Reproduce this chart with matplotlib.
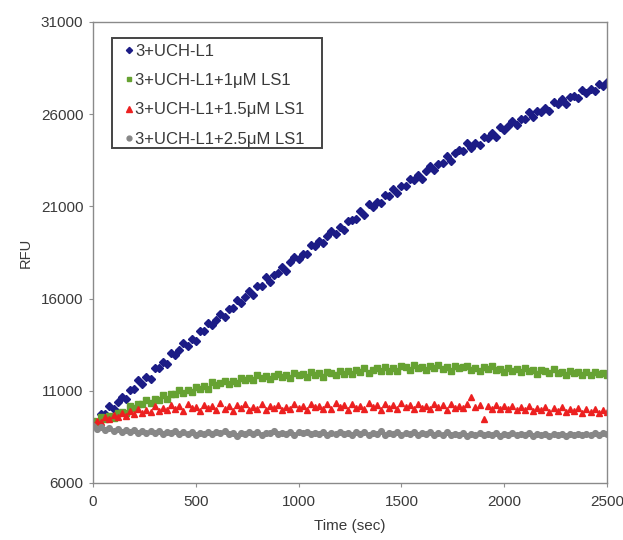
import matplotlib
matplotlib.use("Agg")
import matplotlib.pyplot as plt
from matplotlib.patches import Rectangle

plt.rcParams['font.family'] = ['Liberation Sans', 'DejaVu Sans']

time_sec = list(range(0, 2501, 20))

rfu_ctrl = [9250, 9270, 9760, 9720, 10190, 10010, 10380, 10680, 10540, 11020,
            11080, 11570, 11390, 11760, 11650, 12230, 12240, 12560, 12460, 13060,
            12930, 13220, 13580, 13430, 13820, 13690, 14260, 14270, 14680, 14550,
            14840, 15160, 14990, 15440, 15480, 15940, 15770, 16100, 16400, 16190,
            16670, 16670, 17160, 16910, 17270, 17400, 17720, 17510, 17970, 18260,
            18160, 18430, 18410, 18930, 18830, 19150, 18990, 19410, 19660, 19520,
            19860, 19720, 20220, 20280, 20340, 20760, 20550, 21110, 20980, 21240,
            21190, 21610, 21550, 21970, 21710, 22090, 22090, 22490, 22440, 22700,
            22500, 22930, 23200, 23000, 23300, 23340, 23730, 23470, 23900, 24060,
            24000, 24420, 24180, 24430, 24350, 24790, 24730, 24960, 24790, 25320,
            25160, 25360, 25620, 25410, 25730, 25740, 26100, 25850, 26180, 26130,
            26330, 26190, 26650, 26580, 26800, 26530, 26940, 26970, 26870, 27330,
            27140, 27350, 27270, 27650, 27530, 27740]

rfu_1um = [9340, 9280, 9560, 9480, 9660, 9510, 9800, 9840, 9810, 10160,
           10050, 10290, 10280, 10520, 10360, 10530, 10500, 10750, 10560, 10830,
           10850, 11040, 10870, 11020, 10930, 11200, 11110, 11270, 11120, 11460,
           11290, 11420, 11520, 11360, 11520, 11400, 11700, 11590, 11700, 11580,
           11840, 11680, 11820, 11640, 11800, 11900, 11740, 11870, 11690, 11950,
           11840, 11930, 11770, 12030, 11860, 11940, 11750, 12010, 11950, 11860,
           12080, 11920, 12050, 11900, 12130, 12030, 12220, 11960, 12140, 12210,
           12090, 12290, 12100, 12220, 12090, 12320, 12290, 12150, 12410, 12220,
           12300, 12130, 12340, 12240, 12380, 12180, 12270, 12100, 12360, 12210,
           12310, 12340, 12140, 12250, 12080, 12280, 12170, 12320, 12110, 12160,
           12040, 12260, 12080, 12190, 12010, 12250, 12060, 12120, 11930, 12150,
           12060, 11960, 12160, 11960, 12030, 11880, 12090, 11940, 12040, 11870,
           12000, 11830, 12010, 11890, 11970, 11880]

rfu_15um = [9150, 9380, 9290, 9560, 9450, 9700, 9580, 9820, 9650, 9900,
            9760, 10010, 9820, 9980, 9870, 10150, 9900, 10060, 9950, 10230,
            10020, 10170, 9930, 10280, 10050, 10130, 9900, 10250, 10080, 10190,
            9960, 10320, 10040, 10160, 9920, 10210, 10090, 10270, 9980, 10140,
            10030, 10300, 9940, 10180, 10060, 10240, 9970, 10120, 10010, 10280,
            10070, 10200, 9950, 10310, 10100, 10180, 9990, 10260, 10040, 10350,
            10110, 10220, 9960, 10290, 10080, 10190, 10020, 10340, 10130, 10250,
            9980, 10300, 10070, 10210, 10040, 10330, 10110, 10240, 9990, 10280,
            10060, 10200, 10010, 10310, 10120, 10230, 9970, 10290, 10090, 10180,
            10050, 10260, 10680, 10120, 10220, 9480, 10160, 10040, 10250, 9990,
            10150, 10030, 10200, 9940, 10120, 9980, 10170, 9880, 10090, 9960,
            10130, 9870, 10050, 9920, 10100, 9830, 10010, 9890, 10070, 9810,
            9990, 9860, 10030, 9780, 9950, 9850]

rfu_25um = [9100, 8950, 9050, 8880, 8990, 8820, 8930, 8790, 8900, 8760,
            8860, 8720, 8830, 8690, 8800, 8710, 8840, 8660, 8770, 8690,
            8810, 8650, 8740, 8680, 8790, 8620, 8730, 8670, 8780, 8640,
            8750, 8690, 8800, 8660, 8720, 8560, 8700, 8640, 8770, 8680,
            8740, 8610, 8730, 8690, 8800, 8650, 8720, 8670, 8780, 8630,
            8740, 8690, 8790, 8640, 8710, 8660, 8770, 8620, 8730, 8680,
            8790, 8650, 8720, 8600, 8750, 8670, 8780, 8630, 8710, 8650,
            8800, 8620, 8730, 8680, 8760, 8610, 8720, 8660, 8750, 8600,
            8700, 8640, 8770, 8610, 8690, 8630, 8740, 8580, 8680, 8620,
            8720, 8570, 8660, 8610, 8700, 8590, 8680, 8620, 8710, 8560,
            8660, 8600, 8690, 8580, 8650, 8610, 8700, 8570, 8660, 8600,
            8680, 8560, 8640, 8590, 8670, 8570, 8650, 8600, 8680, 8580,
            8660, 8610, 8690, 8620, 8700, 8680]

labels = ["3+UCH-L1", "3+UCH-L1+1\u03bcM LS1", "3+UCH-L1+1.5\u03bcM LS1",
          "3+UCH-L1+2.5\u03bcM LS1"]
x_ticks = [0, 500, 1000, 1500, 2000, 2500]
y_ticks = [6000, 11000, 16000, 21000, 26000, 31000]

text_c = '#3a3a3a'
fig = plt.figure(figsize=(6.23, 5.40), dpi=100)
ax = fig.add_axes([93/623, 1-483/540, (607-93)/623, (483-22)/540])

ax.plot(time_sec, rfu_ctrl, linestyle='none', marker='D', markersize=3.7,
        color='#1c1c86', label=labels[0])
ax.plot(time_sec, rfu_1um, linestyle='none', marker='s', markersize=3.8,
        color='#66a232', label=labels[1])
ax.plot(time_sec, rfu_15um, linestyle='none', marker='^', markersize=4.5,
        color='#ec2020', label=labels[2])
ax.plot(time_sec, rfu_25um, linestyle='none', marker='o', markersize=4.1,
        color='#878787', label=labels[3])

ax.set_xlim(0, 2500)
ax.set_ylim(6000, 31000)
ax.set_xticks(x_ticks)
ax.set_yticks(y_ticks)
ax.tick_params(axis='both', direction='out', length=3, width=0.8,
               colors='#909090', labelcolor=text_c, labelsize=11)
ax.tick_params(axis='y', pad=4)
ax.tick_params(axis='x', pad=6)
for s in ax.spines.values():
    s.set_color('#8a8a8a')
    s.set_linewidth(1.0)

ax.set_xlabel('Time (sec)', fontsize=11, color=text_c, labelpad=7)
ax.set_ylabel('RFU', fontsize=10.5, color=text_c, labelpad=6)

leg = ax.legend(loc='upper left', bbox_to_anchor=(0.064, 0.953), frameon=False,
                fontsize=12, handlelength=0.4, handletextpad=0.15,
                labelspacing=0.86, borderpad=0, borderaxespad=0,
                markerscale=0.85)
for t in leg.get_texts():
    t.set_color(text_c)
ax.add_patch(Rectangle((0.037, 0.7273), 0.4085, 0.2381, transform=ax.transAxes,
                       fill=False, edgecolor='#444444', linewidth=1.4,
                       zorder=5))

fig.savefig('out.png', dpi=100)
